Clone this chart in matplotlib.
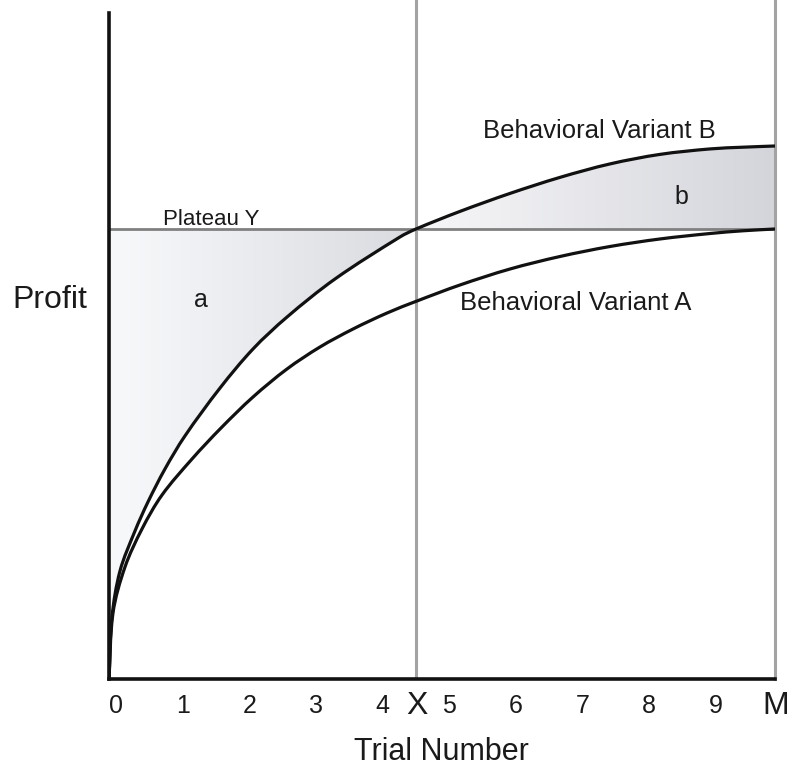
import matplotlib
matplotlib.use('Agg')
import matplotlib.pyplot as plt
import matplotlib.transforms as mtransforms
from matplotlib.path import Path
from matplotlib.patches import PathPatch
import numpy as np

# values (trial number, profit in % of axis height)
trial_b = [0, 0.045, 0.165, 0.39, 0.585, 0.84, 1.14, 1.667, 2.162, 2.673, 3.393, 4.369, 4.61,
           5.27, 6.021, 6.772, 7.523, 8.273, 9.024, 9.52, 10]
profit_b = [0, 9.31, 16.22, 22.22, 26.58, 31.53, 36.49, 43.69, 49.55, 54.35, 60.06, 66.37, 67.57,
            70.21, 72.91, 75.32, 77.34, 78.77, 79.59, 79.85, 80.03]

trial_a = [0, 0.06, 0.24, 0.495, 0.796, 1.246, 1.682, 2.162, 2.673, 3.168, 3.664, 4.174, 4.625,
           5.27, 6.021, 6.772, 7.523, 8.273, 9.024, 9.52, 10]
profit_a = [0, 9.91, 16.82, 22.52, 27.63, 33.03, 37.69, 42.34, 46.55, 49.85, 52.55, 54.95, 56.76,
            59.16, 61.56, 63.44, 64.94, 66.07, 66.89, 67.30, 67.57]

plateau_y = 67.57
trial_x = 4.61
trial_m = 10
cross_idx = 12  # index in variant B where it meets the plateau (at X)
digit_ticks = [0, 1, 2, 3, 4, 5, 6, 7, 8, 9]
digit_labels = ['0', '1', '2', '3', '4', '5', '6', '7', '8', '9']

SANS = ['Liberation Sans', 'DejaVu Sans']
NARROW = ['Liberation Sans Narrow', 'DejaVu Sans Condensed', 'Liberation Sans', 'DejaVu Sans']

# roughly pixels per data unit, only used to make the curve smoothing isotropic
SX, SY = 66.6, 6.66


def smooth_segments(xs, ys, start, stop):
    # cubic bezier segments through the read points, chord-length tangents
    p = np.column_stack([np.array(xs) * SX, np.array(ys) * SY]).astype(float)
    n = len(p)
    dirs = []
    for i in range(n):
        d = p[min(i + 1, n - 1)] - p[max(i - 1, 0)]
        dirs.append(d / np.hypot(*d))
    verts = [p[start]]
    codes = [Path.MOVETO]
    for i in range(start, stop):
        L = np.hypot(*(p[i + 1] - p[i]))
        c1 = p[i] + dirs[i] * L / 3.0
        c2 = p[i + 1] - dirs[i + 1] * L / 3.0
        verts += [c1, c2, p[i + 1]]
        codes += [Path.CURVE4] * 3
    verts = [(v[0] / SX, v[1] / SY) for v in verts]
    return verts, codes


def gradient_fill(ax, verts, codes, x0, x1, y0, y1, c_left, c_right):
    path = Path(verts, codes)
    grad = np.linspace(0, 1, 256).reshape(1, -1, 1)
    c0 = np.array(c_left).reshape(1, 1, 3) / 255.0
    c1 = np.array(c_right).reshape(1, 1, 3) / 255.0
    img = c0 + (c1 - c0) * grad
    im = ax.imshow(img, extent=[x0, x1, y0, y1], aspect='auto', origin='lower',
                   zorder=1, interpolation='bilinear')
    im.set_clip_path(path, transform=ax.transData)


def main():
    fig = plt.figure(figsize=(8, 7.8), dpi=100)
    ax = fig.add_axes([109 / 800, 1 - 679 / 780, 666 / 800, 679 / 780])
    ax.set_xlim(0, 10)
    ax.set_ylim(0, 679 / 666 * 100)

    n_b = len(trial_b)

    # area a: plateau above variant B before X
    v, c = smooth_segments(trial_b, profit_b, 0, cross_idx)
    v = v + [(0, plateau_y), (0, 0)]
    c = c + [Path.LINETO, Path.CLOSEPOLY]
    gradient_fill(ax, v, c, 0, trial_x, 0, plateau_y, (248, 249, 251), (218, 219, 224))

    # area b: variant B above plateau after X
    v, c = smooth_segments(trial_b, profit_b, cross_idx, n_b - 1)
    v = v + [(trial_m, plateau_y), (trial_x, plateau_y), (trial_x, plateau_y)]
    c = c + [Path.LINETO, Path.LINETO, Path.CLOSEPOLY]
    gradient_fill(ax, v, c, trial_x, trial_m, plateau_y, max(profit_b), (247, 247, 249), (212, 213, 219))

    # reference lines
    ax.axhline(plateau_y, color='#808080', lw=2.0, zorder=2)
    ax.axvline(trial_x, color='#a3a3a3', lw=2.2, zorder=2)
    ax.axvline(trial_m, color='#a3a3a3', lw=2.2, zorder=2, clip_on=False)

    # curves
    for xs, ys in [(trial_b, profit_b), (trial_a, profit_a)]:
        v, c = smooth_segments(xs, ys, 0, len(xs) - 1)
        ax.add_patch(PathPatch(Path(v, c), facecolor='none', edgecolor='#111111',
                               lw=2.3, zorder=4, capstyle='butt'))

    for s in ['top', 'right']:
        ax.spines[s].set_visible(False)
    for s in ['left', 'bottom']:
        ax.spines[s].set_linewidth(2.6)
        ax.spines[s].set_color('#111111')
        ax.spines[s].set_zorder(5)
    ax.spines['left'].set_bounds(0, 100)

    ax.set_yticks([])
    ax.set_xticks(digit_ticks + [trial_x, trial_m])
    ax.set_xticklabels(digit_labels + ['X', 'M'])
    ax.tick_params(axis='x', length=0, pad=11)
    shift = mtransforms.ScaledTranslation(7 / 100, 0, fig.dpi_scale_trans)
    up = mtransforms.ScaledTranslation(1 / 100, 3 / 100, fig.dpi_scale_trans)
    for i, lab in enumerate(ax.get_xticklabels()):
        lab.set_fontfamily(NARROW)
        if i < len(digit_ticks):
            lab.set_fontsize(18)
            lab.set_transform(lab.get_transform() + shift)
        else:
            lab.set_fontsize(23)
            lab.set_transform(lab.get_transform() + up)
        lab.set_color('#1a1a1a')

    # annotations
    ax.text(0.81, 68.2, 'Plateau Y', fontsize=16, family=SANS, ha='left', va='baseline', color='#1a1a1a')
    ax.text(7.37, 82.3, 'Behavioral Variant B', fontsize=18.5, family=SANS, ha='center', va='center', color='#1a1a1a')
    ax.text(7.0, 56.5, 'Behavioral Variant A', fontsize=18.5, family=SANS, ha='center', va='center', color='#1a1a1a')
    ax.text(1.38, 56.9, 'a', fontsize=18, family=SANS, ha='center', va='center', color='#1a1a1a')
    ax.text(8.6, 72.4, 'b', fontsize=18, family=SANS, ha='center', va='center', color='#1a1a1a')

    fig.text(12 / 800, 1 - 300 / 780, 'Profit', fontsize=23, family=SANS, ha='left', va='center', color='#1a1a1a')
    fig.text(441 / 800, 1 - 752 / 780, 'Trial Number', fontsize=22, family=SANS, ha='center', va='center', color='#1a1a1a')

    fig.savefig('out.png', dpi=100, facecolor='white')


if __name__ == "__main__":
    main()
